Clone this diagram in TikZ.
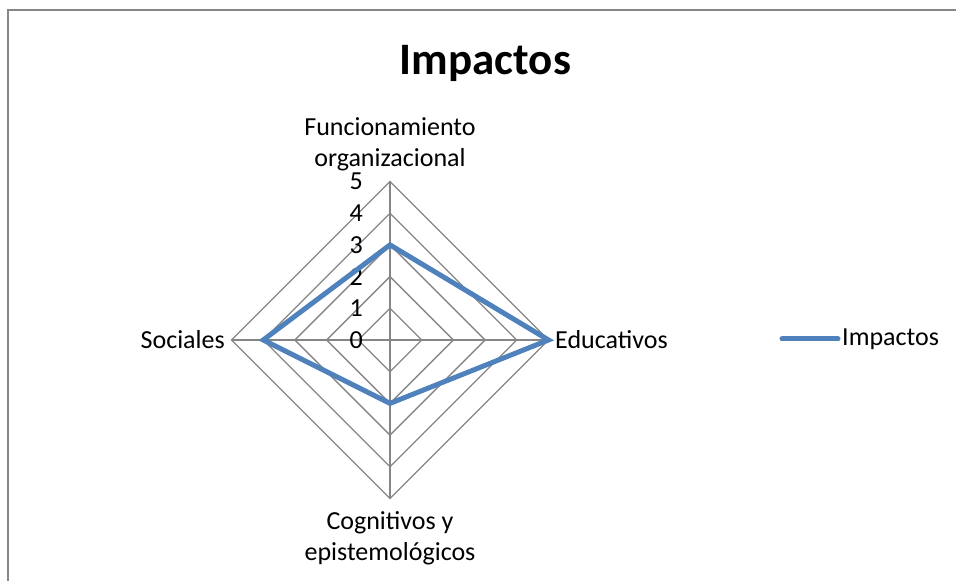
\documentclass[tikz,border=0pt]{standalone}
\usepackage{fontspec}
\setmainfont{Carlito}
\usetikzlibrary{positioning}
\definecolor{seriesblue}{HTML}{4F81BD}
\definecolor{gridgray}{HTML}{868686}

\begin{document}
\begin{tikzpicture}[
    x=1pt, y=1pt,
    grid line/.style={draw=gridgray, line width=1.3pt},
    series line/.style={draw=seriesblue, line width=5pt},
    axis label/.style={
        font=\fontsize{26}{31}\selectfont,
        align=center,
        inner sep=0pt
    },
    tick label/.style={font=\fontsize{26}{31}\selectfont, anchor=east, inner sep=0pt},
    title label/.style={font=\fontsize{45}{54}\selectfont\bfseries, inner sep=0pt}
]
\useasboundingbox (0,0) rectangle (956,581);

% chart frame
\draw[gridgray, line width=1.5pt] (8,0) -- (8,571) -- (956,571);

\node[title label, anchor=base] (title) at (485.5,506) {Impactos};

% radar grid
\coordinate (c) at (390,241);
\foreach \r in {1,...,5}
    \draw[grid line, shift={(c)}] (0,\r*31.7) -- (\r*31.7,0) -- (0,-\r*31.7) -- (-\r*31.7,0) -- cycle;
\coordinate (top) at (390,{241+5*31.7});
\coordinate (right) at ({390+5*31.7},241);
\coordinate (bottom) at (390,{241-5*31.7});
\coordinate (left) at ({390-5*31.7},241);
\draw[grid line] (top) -- (bottom);
\draw[grid line] (left) -- (right);

% scale
\foreach \v in {0,...,5}
    \node[tick label] (t\v) at (363,{241+\v*31.7}) {\v};

% categories
\node[axis label] (funcionamiento) at (390,437) {Funcionamiento\\organizacional};
\node[axis label, right=6.5pt of right] (educativos) {Educativos};
\node[axis label, left=6.5pt of left] (sociales) {Sociales};
\node[axis label] (cognitivos) at (390,43) {Cognitivos y\\epistemológicos};

% series
\coordinate (f) at (390,{241+3*31.7});
\coordinate (e) at ({390+5*31.7},241);
\coordinate (g) at (390,{241-2*31.7});
\coordinate (s) at ({390-4*31.7},241);
\draw[series line] (f) -- (e) -- (g) -- (s) -- cycle;

% legend
\coordinate (leg a) at (782,242);
\coordinate (leg b) at (838,242);
\draw[series line, line cap=round] (leg a) -- (leg b);
\node[axis label, right=4pt of leg b] (legend) {Impactos};
\end{tikzpicture}
\end{document}
